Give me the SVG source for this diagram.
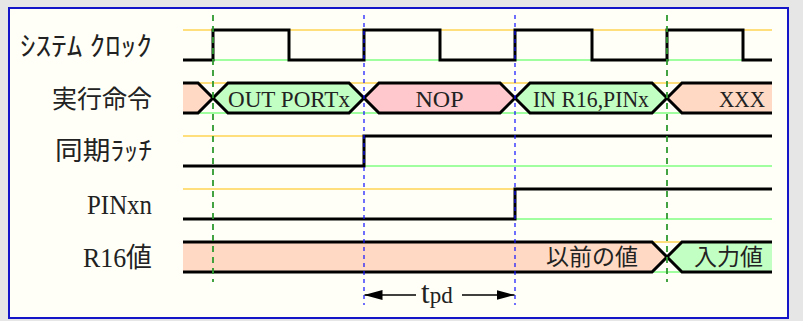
<svg xmlns="http://www.w3.org/2000/svg" width="803" height="321" viewBox="0 0 803 321">
<defs>
<style>
.lbl{font-family:"Liberation Serif","Noto Sans CJK JP",serif;fill:#222;}
.jp{font-family:"Noto Sans CJK JP",sans-serif;fill:#222;}
.sig{fill:none;stroke:#000;stroke-width:3;stroke-linejoin:miter;stroke-linecap:butt;}
.hi{stroke:#ffc000;stroke-width:1.2;fill:none;}
.lo{stroke:#80ff80;stroke-width:1.5;fill:none;}
.peach{fill:#ffd9c4;}
.green{fill:#c2ffc2;}
.pink{fill:#ffc8cc;}
.gdash{stroke:#2f9a2f;stroke-width:1.8;stroke-dasharray:6 5;fill:none;}
.bdash{stroke:#1010ff;stroke-width:1.2;stroke-dasharray:4 4;fill:none;}
</style>
<marker id="ah" viewBox="0 0 18 10" refX="18" refY="5" markerWidth="18" markerHeight="10" markerUnits="userSpaceOnUse" orient="auto-start-reverse">
<path d="M0,0 L18,5 L0,10 Z" fill="#000"/>
</marker>
</defs>
<rect x="0" y="0" width="803" height="321" fill="#e6e6e6"/>
<rect x="9" y="8" width="779" height="310" fill="#fffff7" stroke="#1414c8" stroke-width="2"/>

<g id="clock">
<text class="jp" x="152" y="56" font-size="27" text-anchor="end" textLength="132" lengthAdjust="spacingAndGlyphs">ｼｽﾃﾑ ｸﾛｯｸ</text>
<line class="hi" x1="183" y1="30" x2="772" y2="30"/>
<line class="lo" x1="183" y1="60" x2="772" y2="60"/>
<path class="sig" d="M183,60 H213 V30 H289 V60 H364 V30 H440 V60 H515 V30 H592 V60 H667 V30 H743 V60 H772"/>
</g>

<g id="instruction">
<text class="jp" x="152" y="108" font-size="25" text-anchor="end">実行命令</text>
<line class="hi" x1="183" y1="83" x2="772" y2="83"/>
<line class="lo" x1="183" y1="113" x2="772" y2="113"/>
<path class="peach" d="M183,83 H198 L213,98 L198,113 H183 Z"/>
<path class="green" d="M213,98 L228,83 H349 L364,98 L349,113 H228 Z"/>
<path class="pink" d="M364,98 L379,83 H500 L515,98 L500,113 H379 Z"/>
<path class="green" d="M515,98 L530,83 H652 L667,98 L652,113 H530 Z"/>
<path class="peach" d="M667,98 L682,83 H772 V113 H682 Z"/>
<path class="sig" d="M183,83 H198 L228,113 H349 L379,83 H500 L530,113 H652 L682,83 H772"/>
<path class="sig" d="M183,113 H198 L228,83 H349 L379,113 H500 L530,83 H652 L682,113 H772"/>
<text class="lbl" x="289" y="106.5" font-size="24" text-anchor="middle" textLength="122" lengthAdjust="spacingAndGlyphs">OUT PORTx</text>
<text class="lbl" x="439.5" y="106.5" font-size="24" text-anchor="middle">NOP</text>
<text class="lbl" x="591" y="106.5" font-size="23" text-anchor="middle" textLength="116" lengthAdjust="spacingAndGlyphs">IN R16,PINx</text>
<text class="lbl" x="765" y="106.5" font-size="23" text-anchor="end" textLength="46" lengthAdjust="spacingAndGlyphs">XXX</text>
</g>

<g id="latch">
<text class="jp" x="152" y="160" font-size="26" text-anchor="end" textLength="97" lengthAdjust="spacingAndGlyphs">同期ﾗｯﾁ</text>
<line class="hi" x1="183" y1="136" x2="772" y2="136"/>
<line class="lo" x1="183" y1="166" x2="772" y2="166"/>
<path class="sig" d="M183,166 H364 V136 H772"/>
</g>

<g id="pinxn">
<text class="lbl" x="152" y="214" font-size="27" text-anchor="end" textLength="65" lengthAdjust="spacingAndGlyphs">PINxn</text>
<line class="hi" x1="183" y1="189" x2="772" y2="189"/>
<line class="lo" x1="183" y1="219" x2="772" y2="219"/>
<path class="sig" d="M183,219 H515 V189 H772"/>
</g>

<g id="r16">
<text class="lbl" x="152" y="267" font-size="27" text-anchor="end" textLength="69" lengthAdjust="spacingAndGlyphs">R16値</text>
<line class="hi" x1="183" y1="242" x2="772" y2="242"/>
<line class="lo" x1="183" y1="272" x2="772" y2="272"/>
<path class="peach" d="M183,242 H652 L667,257 L652,272 H183 Z"/>
<path class="green" d="M667,257 L682,242 H772 V272 H682 Z"/>
<path class="sig" d="M183,242 H652 L682,272 H772"/>
<path class="sig" d="M183,272 H652 L682,242 H772"/>
<text class="jp" x="638" y="265" font-size="23" text-anchor="end">以前の値</text>
<text class="jp" x="763" y="265" font-size="23" text-anchor="end">入力値</text>
</g>

<g id="connectors">
<line class="gdash" x1="213" y1="15" x2="213" y2="282"/>
<line class="gdash" x1="667" y1="15" x2="667" y2="282"/>
<line class="bdash" x1="364" y1="15" x2="364" y2="305"/>
<line class="bdash" x1="515" y1="15" x2="515" y2="305"/>
<line x1="416" y1="295" x2="364.5" y2="295" stroke="#000" stroke-width="1.6" marker-end="url(#ah)"/>
<line x1="462" y1="295" x2="514.5" y2="295" stroke="#000" stroke-width="1.6" marker-end="url(#ah)"/>
<text class="lbl" x="421" y="303" font-size="31">t<tspan font-size="23" dy="0">pd</tspan></text>
</g>
</svg>
